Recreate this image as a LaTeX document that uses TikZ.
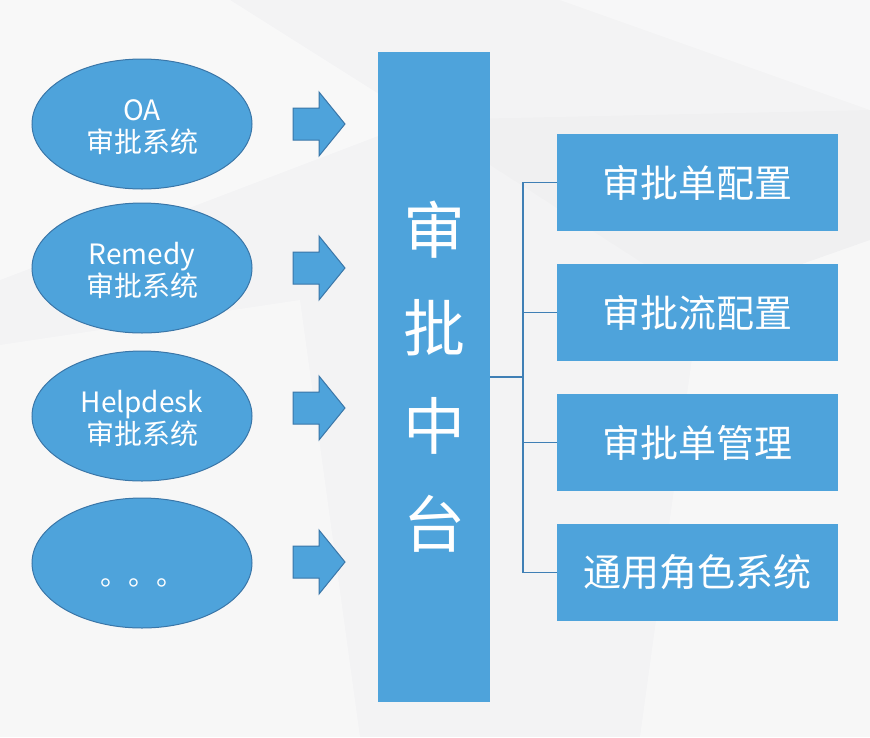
\documentclass[tikz,border=0pt]{standalone}
\usepackage{fontspec}
\setmainfont{Noto Sans CJK SC}
\definecolor{boxblue}{HTML}{4EA3DB}
\definecolor{rimblue}{HTML}{3A76A8}
\definecolor{wireblue}{HTML}{3F7FB5}
\definecolor{bggray}{HTML}{F3F3F4}
\newcommand\srcline[1]{\raisebox{-12.5pt}[0pt][0pt]{#1}}
\tikzset{
  source/.style={ellipse,fill=boxblue,draw=rimblue,line width=1pt,
    minimum width=220pt,minimum height=130pt,inner sep=0pt,text=white,
    align=center,font=\fontsize{28}{32}\selectfont},
  module/.style={rectangle,fill=boxblue,minimum width=281pt,minimum height=97pt,
    inner sep=0pt,text=white,font=\fontsize{38}{44}\selectfont},
  hubbox/.style={rectangle,fill=boxblue,minimum width=112pt,minimum height=650pt,
    inner sep=0pt,text=white,align=center,font=\fontsize{62}{98}\selectfont},
  wire/.style={draw=wireblue,line width=1.4pt},
  inarrow/.style={fill=boxblue,draw=rimblue,line width=1pt,line join=miter}
}
\usetikzlibrary{shapes.geometric}
\begin{document}
\begin{tikzpicture}[x=1pt,y=-1pt]
% 背景
\fill[bggray] (0,0) rectangle (870,737);
\useasboundingbox (0,0) rectangle (870,737);
\fill[white,opacity=0.45] (0,0) -- (230,0) -- (420,120) -- (0,280) -- cycle;
\fill[white,opacity=0.35] (0,345) -- (300,300) -- (360,737) -- (0,737) -- cycle;
\fill[white,opacity=0.4] (560,0) -- (870,0) -- (870,110) -- cycle;
\fill[white,opacity=0.35] (700,300) -- (870,240) -- (870,737) -- (640,737) -- cycle;
\fill[black,opacity=0.012] (420,120) -- (870,110) -- (870,240) -- (700,300) -- cycle;
% 左侧系统
\node[source] (oa) at (142,124) {\srcline{OA}\\\srcline{审批系统}};
\node[source] (remedy) at (142,268) {\srcline{Remedy}\\\srcline{审批系统}};
\node[source] (helpdesk) at (142,416) {\srcline{Helpdesk}\\\srcline{审批系统}};
\node[source] (more) at (142,563) {\raisebox{-22pt}[0pt][0pt]{。。。}};
% 箭头
\foreach \y in {124,268,408,562}
  \draw[inarrow] (293,\y-16) -- (319,\y-16) -- (319,\y-32) -- (345,\y)
    -- (319,\y+32) -- (319,\y+16) -- (293,\y+16) -- cycle;
% 中台
\node[hubbox] (hub) at (434,377) {审\\批\\中\\台};
% 右侧模块
\node[module] (form) at (697.5,182.5) {审批单配置};
\node[module] (flow) at (697.5,312.5) {审批流配置};
\node[module] (manage) at (697.5,442.5) {审批单管理};
\node[module] (role) at (697.5,572.5) {通用角色系统};
% 连线
\coordinate (fork) at (523,377);
\draw[wire] (hub.east) -- (fork);
\draw[wire] (form.west) -| (role.west -| fork) -- (role.west);
\draw[wire] (flow.west) -- (flow.west -| fork);
\draw[wire] (manage.west) -- (manage.west -| fork);
\end{tikzpicture}
\end{document}
